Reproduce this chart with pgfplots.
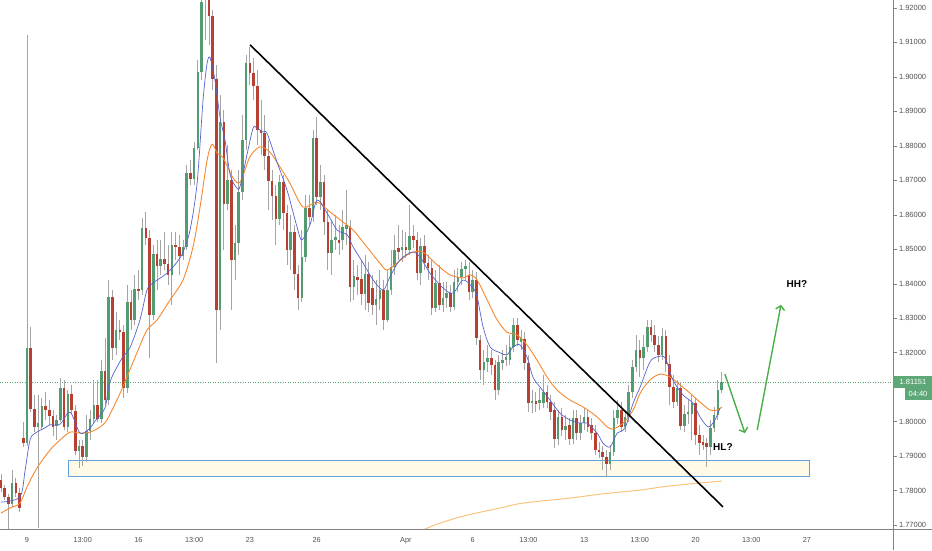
\documentclass[border=0pt]{standalone}
\usepackage{fontspec}
\setmainfont{Liberation Sans}
\usepackage{pgfplots}
\pgfplotsset{compat=1.18}
\usepackage{pgfplotstable}
\usetikzlibrary{arrows.meta}

\definecolor{cgreen}{RGB}{83,155,112}
\definecolor{cred}{RGB}{183,64,50}
\definecolor{cwick}{RGB}{165,165,165}
\definecolor{cblue}{RGB}{88,98,205}
\definecolor{corange}{RGB}{247,135,45}
\definecolor{cma}{RGB}{250,195,125}
\definecolor{cbox}{RGB}{255,250,232}
\definecolor{cboxedge}{RGB}{100,160,220}
\definecolor{carrow}{RGB}{72,175,70}
\definecolor{ctag}{RGB}{94,168,120}
\definecolor{caxis}{RGB}{130,130,130}
\definecolor{clabel}{RGB}{80,80,80}

\pgfplotstableread{
i o h l c
0 1.7831 1.7848 1.7796 1.7808
1 1.7808 1.7817 1.7773 1.7782
2 1.7782 1.7790 1.7683 1.7761
3 1.7761 1.7860 1.7753 1.7822
4 1.7822 1.7837 1.7782 1.7793
5 1.7793 1.7808 1.7738 1.7750
6 1.7953 1.7999 1.7927 1.7938
7 1.7938 1.9122 1.7930 1.8214
8 1.8214 1.8275 1.8028 1.8037
9 1.8037 1.8078 1.7970 1.7985
10 1.7985 1.8078 1.7692 1.7996
11 1.7985 1.8069 1.7976 1.8046
12 1.8046 1.8086 1.8005 1.8034
13 1.8034 1.8063 1.7991 1.8017
14 1.8017 1.8034 1.7959 1.7985
15 1.7988 1.8020 1.7947 1.8005
16 1.8005 1.8127 1.7999 1.8098
17 1.8098 1.8121 1.7976 1.7985
18 1.7985 1.8092 1.7970 1.8080
19 1.8080 1.8107 1.8022 1.8034
20 1.8031 1.8049 1.7904 1.7915
21 1.7915 1.7947 1.7866 1.7930
22 1.7930 1.7947 1.7872 1.7898
23 1.7898 1.8020 1.7883 1.7973
24 1.7973 1.8034 1.7947 1.8008
25 1.8008 1.8121 1.7996 1.8049
26 1.8049 1.8121 1.7999 1.8008
27 1.8008 1.8179 1.7996 1.8147
28 1.8147 1.8243 1.8049 1.8063
29 1.8063 1.8411 1.8049 1.8362
30 1.8362 1.8382 1.8179 1.8214
31 1.8214 1.8318 1.8194 1.8266
32 1.8266 1.8295 1.8237 1.8260
33 1.8260 1.8281 1.8069 1.8098
34 1.8098 1.8397 1.8083 1.8347
35 1.8347 1.8382 1.8266 1.8295
36 1.8295 1.8426 1.8281 1.8385
37 1.8385 1.8440 1.8353 1.8379
38 1.8382 1.8591 1.8368 1.8562
39 1.8562 1.8608 1.8513 1.8533
40 1.8533 1.8556 1.8185 1.8310
41 1.8310 1.8513 1.8295 1.8486
42 1.8486 1.8527 1.8382 1.8452
43 1.8452 1.8527 1.8426 1.8472
44 1.8472 1.8550 1.8440 1.8457
45 1.8457 1.8513 1.8397 1.8426
46 1.8426 1.8550 1.8339 1.8513
47 1.8513 1.8550 1.8469 1.8507
48 1.8507 1.8542 1.8426 1.8481
49 1.8481 1.8527 1.8469 1.8507
50 1.8507 1.8745 1.8498 1.8721
51 1.8721 1.8759 1.8687 1.8704
52 1.8704 1.8811 1.8687 1.8794
53 1.8794 1.9049 1.8788 1.9014
54 1.9014 1.9252 1.8991 1.9217
55 1.9296 1.9320 1.9107 1.9238
56 1.9238 1.9281 1.9093 1.9177
57 1.9177 1.9194 1.8962 1.8994
58 1.8994 1.9035 1.8170 1.8324
59 1.8324 1.8948 1.8266 1.8869
60 1.8869 1.8904 1.8498 1.8631
61 1.8631 1.8803 1.8614 1.8701
62 1.8701 1.8730 1.8324 1.8469
63 1.8469 1.8571 1.8411 1.8518
64 1.8518 1.8730 1.8484 1.8666
65 1.8666 1.8890 1.8643 1.8817
66 1.8817 1.9064 1.8788 1.9040
67 1.9040 1.9087 1.8977 1.9011
68 1.9011 1.9055 1.8933 1.8974
69 1.8974 1.9020 1.8803 1.8846
70 1.8846 1.8933 1.8774 1.8837
71 1.8837 1.8890 1.8730 1.8771
72 1.8771 1.8817 1.8614 1.8698
73 1.8698 1.8730 1.8585 1.8655
74 1.8655 1.8687 1.8513 1.8588
75 1.8588 1.8716 1.8571 1.8695
76 1.8695 1.8716 1.8556 1.8605
77 1.8605 1.8628 1.8455 1.8498
78 1.8498 1.8600 1.8440 1.8550
79 1.8550 1.8571 1.8382 1.8428
80 1.8428 1.8455 1.8324 1.8359
81 1.8359 1.8556 1.8347 1.8478
82 1.8478 1.8658 1.8463 1.8620
83 1.8620 1.8658 1.8571 1.8594
84 1.8594 1.8846 1.8579 1.8823
85 1.8823 1.8884 1.8628 1.8652
86 1.8652 1.8745 1.8614 1.8695
87 1.8695 1.8716 1.8542 1.8579
88 1.8579 1.8614 1.8440 1.8489
89 1.8489 1.8585 1.8426 1.8527
90 1.8527 1.8600 1.8498 1.8536
91 1.8527 1.8571 1.8484 1.8518
92 1.8527 1.8614 1.8498 1.8565
93 1.8559 1.8672 1.8513 1.8571
94 1.8565 1.8585 1.8347 1.8391
95 1.8391 1.8469 1.8353 1.8423
96 1.8420 1.8455 1.8368 1.8411
97 1.8414 1.8469 1.8339 1.8370
98 1.8370 1.8484 1.8324 1.8428
99 1.8428 1.8463 1.8318 1.8344
100 1.8388 1.8426 1.8310 1.8339
101 1.8339 1.8411 1.8281 1.8356
102 1.8356 1.8440 1.8324 1.8382
103 1.8382 1.8411 1.8266 1.8295
104 1.8295 1.8440 1.8289 1.8382
105 1.8382 1.8498 1.8368 1.8449
106 1.8449 1.8542 1.8426 1.8498
107 1.8504 1.8571 1.8469 1.8492
108 1.8498 1.8556 1.8463 1.8507
109 1.8507 1.8550 1.8475 1.8498
110 1.8498 1.8628 1.8484 1.8539
111 1.8539 1.8571 1.8504 1.8527
112 1.8527 1.8550 1.8411 1.8431
113 1.8431 1.8533 1.8397 1.8510
114 1.8510 1.8542 1.8440 1.8460
115 1.8460 1.8484 1.8411 1.8446
116 1.8446 1.8469 1.8310 1.8330
117 1.8330 1.8440 1.8318 1.8402
118 1.8402 1.8455 1.8324 1.8339
119 1.8339 1.8405 1.8318 1.8359
120 1.8359 1.8405 1.8330 1.8373
121 1.8373 1.8397 1.8318 1.8333
122 1.8333 1.8440 1.8324 1.8405
123 1.8405 1.8446 1.8376 1.8420
124 1.8420 1.8463 1.8397 1.8443
125 1.8443 1.8469 1.8411 1.8452
126 1.8426 1.8463 1.8353 1.8376
127 1.8376 1.8440 1.8359 1.8411
128 1.8411 1.8434 1.8223 1.8243
129 1.8237 1.8252 1.8121 1.8150
130 1.8150 1.8208 1.8107 1.8173
131 1.8173 1.8223 1.8144 1.8185
132 1.8185 1.8208 1.8136 1.8165
133 1.8165 1.8179 1.8063 1.8092
134 1.8092 1.8194 1.8078 1.8173
135 1.8170 1.8208 1.8150 1.8179
136 1.8179 1.8223 1.8162 1.8188
137 1.8179 1.8252 1.8165 1.8217
138 1.8217 1.8301 1.8202 1.8281
139 1.8281 1.8301 1.8220 1.8237
140 1.8231 1.8266 1.8208 1.8243
141 1.8240 1.8260 1.8150 1.8170
142 1.8170 1.8194 1.8028 1.8054
143 1.8054 1.8092 1.8025 1.8060
144 1.8060 1.8086 1.8028 1.8051
145 1.8054 1.8098 1.8034 1.8063
146 1.8054 1.8136 1.8040 1.8086
147 1.8086 1.8107 1.8040 1.8057
148 1.8057 1.8078 1.8005 1.8028
149 1.8034 1.8057 1.7924 1.7950
150 1.7950 1.8034 1.7933 1.8014
151 1.8014 1.8040 1.7959 1.7976
152 1.7976 1.8020 1.7947 1.7988
153 1.7991 1.8011 1.7933 1.7950
154 1.7950 1.8034 1.7936 1.8011
155 1.8011 1.8034 1.7947 1.7967
156 1.7967 1.8020 1.7947 1.7996
157 1.7996 1.8040 1.7976 1.8014
158 1.8014 1.8034 1.7970 1.7985
159 1.7991 1.8011 1.7947 1.7967
160 1.7967 1.7991 1.7904 1.7918
161 1.7918 1.7941 1.7895 1.7912
162 1.7912 1.7930 1.7860 1.7898
163 1.7898 1.7918 1.7840 1.7877
164 1.7877 1.7933 1.7860 1.7912
165 1.7912 1.8034 1.7901 1.8011
166 1.8011 1.8063 1.7993 1.8034
167 1.8034 1.8057 1.7970 1.7985
168 1.7985 1.8034 1.7970 1.8014
169 1.8014 1.8107 1.7999 1.8086
170 1.8086 1.8179 1.8069 1.8159
171 1.8159 1.8252 1.8144 1.8208
172 1.8208 1.8237 1.8130 1.8185
173 1.8185 1.8252 1.8150 1.8217
174 1.8217 1.8295 1.8202 1.8275
175 1.8275 1.8295 1.8231 1.8252
176 1.8252 1.8281 1.8202 1.8223
177 1.8223 1.8249 1.8173 1.8194
178 1.8194 1.8272 1.8179 1.8249
179 1.8249 1.8266 1.8144 1.8167
180 1.8167 1.8194 1.8049 1.8101
181 1.8101 1.8136 1.8040 1.8057
182 1.8057 1.8121 1.8046 1.8098
183 1.8098 1.8115 1.7976 1.7988
184 1.7988 1.8049 1.7970 1.8022
185 1.8022 1.8063 1.7993 1.8028
186 1.8022 1.8078 1.7947 1.8054
187 1.8054 1.8069 1.7933 1.7962
188 1.7962 1.7991 1.7904 1.7938
189 1.7941 1.7962 1.7918 1.7933
190 1.7938 1.7953 1.7869 1.7927
191 1.7927 1.8005 1.7904 1.7982
192 1.7982 1.8043 1.7970 1.8020
193 1.8020 1.8121 1.8005 1.8092
194 1.8092 1.8144 1.8083 1.8115
}\candles

\pgfplotstableread{
x y
0 1.7767
5.1 1.7782
6.5 1.7860
7.8 1.7947
9.2 1.7967
11.8 1.7982
13.2 1.7991
15.9 1.7993
18.6 1.8028
21.3 1.7967
24.0 1.7982
25.3 1.8002
28.0 1.8040
29.3 1.8115
32.6 1.8185
34.7 1.8214
37.4 1.8295
39.3 1.8382
40.9 1.8402
44.7 1.8431
47.4 1.8463
49.0 1.8492
50.9 1.8556
52.8 1.8692
54.4 1.8933
55.5 1.9040
56.3 1.9055
57.6 1.8991
59.0 1.8881
60.3 1.8817
61.7 1.8716
63.5 1.8678
64.4 1.8684
66.5 1.8788
67.9 1.8852
68.9 1.8852
70.5 1.8840
71.6 1.8837
74.3 1.8753
77.0 1.8672
79.7 1.8565
81.0 1.8527
83.2 1.8571
85.1 1.8643
87.8 1.8605
90.5 1.8556
93.2 1.8542
94.8 1.8507
97.5 1.8460
100.2 1.8411
102.9 1.8382
104.7 1.8420
107.4 1.8469
110.7 1.8492
112.8 1.8478
115.5 1.8431
119.0 1.8388
121.7 1.8373
124.4 1.8411
127.1 1.8388
128.2 1.8362
129.8 1.8275
131.7 1.8217
134.4 1.8200
136.2 1.8194
137.9 1.8217
139.7 1.8223
141.6 1.8188
143.2 1.8130
145.1 1.8101
147.8 1.8063
150.5 1.8025
153.2 1.8005
155.9 1.7996
157.8 1.7996
160.5 1.7967
162.1 1.7938
164.0 1.7927
165.9 1.7967
168.0 1.7982
170.2 1.8054
172.1 1.8101
174.7 1.8173
176.6 1.8188
178.8 1.8185
180.9 1.8121
183.6 1.8078
186.3 1.8054
188.2 1.8014
190.4 1.7985
192.2 1.8005
193.6 1.8040
}\mafast

\pgfplotstableread{
x y
0 1.7735
2.4 1.7750
5.1 1.7764
7.0 1.7811
9.7 1.7866
13.2 1.7918
15.9 1.7947
18.6 1.7970
21.3 1.7967
24.0 1.7970
26.7 1.7985
28.5 1.8005
31.2 1.8063
32.8 1.8101
36.6 1.8200
39.3 1.8266
42.0 1.8295
45.5 1.8353
49.0 1.8411
51.7 1.8507
53.6 1.8623
55.5 1.8759
56.8 1.8805
58.2 1.8779
59.8 1.8765
62.5 1.8707
64.4 1.8695
67.0 1.8768
69.7 1.8797
72.4 1.8782
75.1 1.8739
77.8 1.8692
81.3 1.8623
85.1 1.8637
88.6 1.8608
92.1 1.8579
94.8 1.8556
98.5 1.8507
102.0 1.8460
103.9 1.8440
106.6 1.8460
110.1 1.8489
113.6 1.8492
117.4 1.8455
120.9 1.8426
124.4 1.8417
126.3 1.8426
128.2 1.8411
130.9 1.8353
133.6 1.8295
136.2 1.8260
138.9 1.8252
141.6 1.8223
144.3 1.8179
147.0 1.8130
149.7 1.8092
153.2 1.8063
156.7 1.8043
160.5 1.8014
163.2 1.7985
164.8 1.7979
167.5 1.7996
170.2 1.8034
172.1 1.8083
174.7 1.8121
177.4 1.8138
180.1 1.8130
182.8 1.8107
185.5 1.8083
188.2 1.8057
190.9 1.8034
192.8 1.8034
194.1 1.8043
}\maslow

\pgfplotstableread{
x y
112.8 1.7683
118.2 1.7706
123.6 1.7724
127.9 1.7735
134.4 1.7750
140.5 1.7764
153.5 1.7779
161.3 1.7790
172.1 1.7802
180.1 1.7814
194.1 1.7828
}\malong

\begin{document}
\begin{tikzpicture}
\path[use as bounding box] (0pt,0pt) rectangle (932pt,550pt);
\begin{axis}[
  at={(0pt,21pt)}, anchor=south west,
  width=893pt, height=529pt, scale only axis,
  xmin=-0.27, xmax=240.16,
  ymin=1.7689, ymax=1.9223,
  axis x line*=bottom, axis y line*=right,
  axis line style={-, caxis, line width=0.8pt},
  xtick={7,22,37,52,67,85,109,127,142,157,172,187,202,217},
  xticklabels={9,13:00,16,13:00,23,26,Apr,6,13:00,13,13:00,20,13:00,27},
  xtick style={draw=none},
  xticklabel style={font=\fontsize{7.3}{9}\selectfont, text=clabel, yshift=-1pt},
  ytick={1.77,1.78,1.79,1.80,1.81,1.82,1.83,1.84,1.85,1.86,1.87,1.88,1.89,1.90,1.91,1.92},
  yticklabels={1.77000,1.78000,1.79000,1.80000,,1.82000,1.83000,1.84000,1.85000,1.86000,1.87000,1.88000,1.89000,1.90000,1.91000,1.92000},
  tick align=outside, major tick length=3.5pt,
  ytick style={caxis, line width=0.6pt},
  yticklabel style={font=\fontsize{7.5}{9}\selectfont, text=clabel, anchor=west, xshift=-1pt},
  clip=true,
]
% support zone
\draw[cboxedge, line width=1pt, fill=cbox] (axis cs:18.04,1.7889) rectangle (axis cs:217.8,1.7840);
% current price line
\addplot[ctag, line width=0.6pt, dash pattern=on 1pt off 1.5pt, forget plot] coordinates {(-0.27,1.81151) (240.16,1.81151)};
% long MA
\addplot[cma, line width=1pt, smooth, forget plot] table[x=x,y=y]{\malong};
% wicks
\addplot[draw=none, forget plot, error bars/.cd, y dir=both, y explicit, error mark=none,
  error bar style={line width=0.8pt, draw=cwick}]
  table[x=i, y expr={(\thisrow{h}+\thisrow{l})/2}, y error expr={(\thisrow{h}-\thisrow{l})/2}]{\candles};
% green bodies
\addplot[draw=none, forget plot, restrict expr to domain={\thisrow{c}-\thisrow{o}}{0:1},
  error bars/.cd, y dir=both, y explicit, error mark=none,
  error bar style={line width=2.6pt, draw=cgreen}]
  table[x=i, y expr={(\thisrow{o}+\thisrow{c})/2}, y error expr={abs(\thisrow{c}-\thisrow{o})/2}]{\candles};
% red bodies
\addplot[draw=none, forget plot, restrict expr to domain={\thisrow{c}-\thisrow{o}}{-1:0},
  error bars/.cd, y dir=both, y explicit, error mark=none,
  error bar style={line width=2.6pt, draw=cred}]
  table[x=i, y expr={(\thisrow{o}+\thisrow{c})/2}, y error expr={abs(\thisrow{c}-\thisrow{o})/2}]{\candles};
% moving averages
\addplot[corange, line width=0.9pt, smooth, forget plot] table[x=x,y=y]{\maslow};
\addplot[cblue, line width=0.7pt, smooth, forget plot] table[x=x,y=y]{\mafast};
% trend line
\addplot[black, line width=1.6pt, forget plot] coordinates {(67.05,1.9093) (194.4,1.7753)};
% arrows
\draw[carrow, line width=1.4pt, -{Straight Barb[length=4pt,width=9pt]}] (axis cs:194.9,1.8138) -- (axis cs:200.3,1.7967);
\draw[carrow, line width=1.4pt, -{Straight Barb[length=4pt,width=9pt]}] (axis cs:203.6,1.7976) -- (axis cs:210.0,1.8339);
\node[font=\bfseries\fontsize{10}{12}\selectfont] at (axis cs:214.3,1.8399) {HH?};
\node[font=\bfseries\fontsize{10}{12}\selectfont, anchor=west, inner sep=0pt] at (axis cs:191.7,1.7927) {HL?};
\coordinate (tagpt) at (axis cs:240.16,1.81151);
\end{axis}
\draw[caxis, line width=0.8pt] (893pt,0pt) -- (893pt,550pt);
\draw[caxis, line width=0.8pt] (0pt,21pt) -- (932pt,21pt);
\fill[ctag] ([yshift=-6.2pt]tagpt) rectangle ([xshift=39pt,yshift=6.2pt]tagpt);
\node[text=white, font=\fontsize{7.5}{9}\selectfont, inner sep=0pt] at ([xshift=20pt]tagpt) {1.81151};
\fill[ctag] ([xshift=12pt,yshift=-18.2pt]tagpt) rectangle ([xshift=39pt,yshift=-6.2pt]tagpt);
\node[text=white, font=\fontsize{7.5}{9}\selectfont, inner sep=0pt] at ([xshift=25pt,yshift=-12.2pt]tagpt) {04:40};
\end{tikzpicture}
\end{document}
